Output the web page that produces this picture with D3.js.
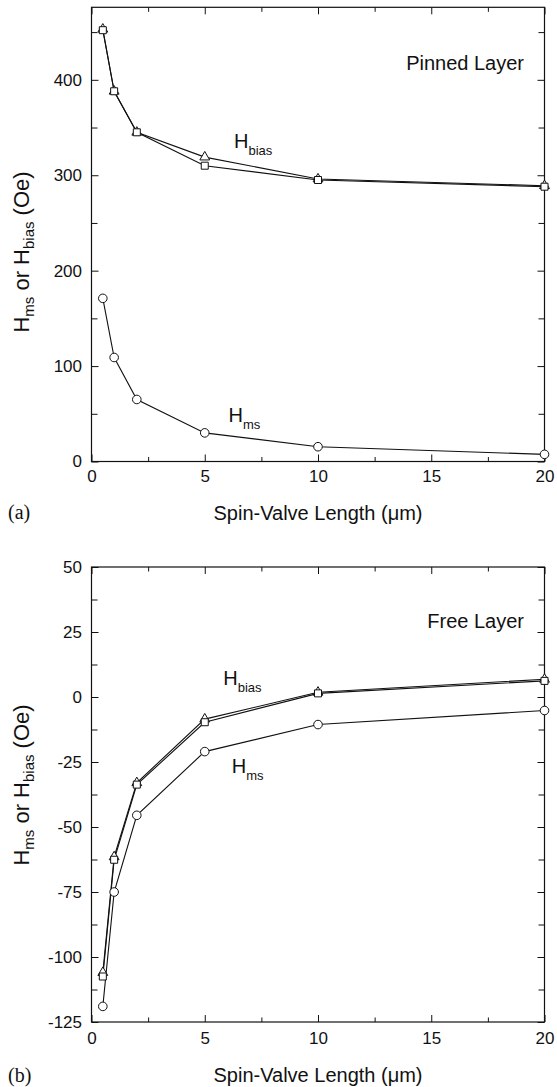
<!DOCTYPE html>
<html>
<head>
<meta charset="utf-8">
<script src="https://cdn.jsdelivr.net/npm/d3@7"></script>
<style>
  body { margin: 0; background: #fff; }
  svg { display: block; }
  text { font-family: "Liberation Sans", Arial, sans-serif; fill: #111; }
  .serif { font-family: "Liberation Serif", "Times New Roman", serif; }
  .tick line { stroke: #111; }
  .tick text { font-size: 17px; }
</style>
</head>
<body>
<svg id="chart" width="557" height="1087"></svg>
<script>
// spin-valve length (um)
const lengths = [0.5, 1, 2, 5, 10, 20];

// pinned layer (Oe)
const pinnedBiasTri = [453, 388, 345, 319, 296, 289];
const pinnedBiasSq = [452, 388, 345, 310, 295, 288];
const pinnedMs = [171, 109, 65, 30, 15.5, 7.5];

// free layer (Oe)
const freeBiasTri = [-106, -61.5, -33, -8.5, 1.8, 6.8];
const freeBiasSq = [-107.5, -62.6, -33.7, -9.7, 1.4, 6.2];
const freeMs = [-119, -75, -45.5, -21, -10.6, -5.2];

const xTicks = [0, 5, 10, 15, 20];
const xMinor = [2.5, 7.5, 12.5, 17.5];
const pinnedTicks = [0, 100, 200, 300, 400];
const pinnedMinor = [50, 150, 250, 350, 450];
const freeTicks = [-125, -100, -75, -50, -25, 0, 25, 50];
const freeMinor = [-112.5, -87.5, -62.5, -37.5, -12.5, 12.5, 37.5];

const svg = d3.select('#chart');
const left = 91.5, right = 544.5;
// plain hyphen for negatives, like the original
const fmt = d => String(d);

const panels = [
  {
    top: 7.3, bottom: 461.5, domain: [0, 476],
    ticks: pinnedTicks, minor: pinnedMinor, xPad: 8.5,
    series: [
      { values: pinnedBiasTri, mark: 'tri' },
      { values: pinnedBiasSq, mark: 'sq' },
      { values: pinnedMs, mark: 'circ' }
    ],
    title: 'Pinned Layer', titleY: 70,
    letter: '(a)', letterY: 519, xTitleY: 520, yTitleY: 252,
    labels: [
      { sub: 'bias', x: 234, y: 148.3 },
      { sub: 'ms', x: 228.5, y: 422 }
    ]
  },
  {
    top: 567, bottom: 1022, domain: [-125, 50],
    ticks: freeTicks, minor: freeMinor, xPad: 10,
    series: [
      { values: freeBiasTri, mark: 'tri' },
      { values: freeBiasSq, mark: 'sq' },
      { values: freeMs, mark: 'circ' }
    ],
    title: 'Free Layer', titleY: 628,
    letter: '(b)', letterY: 1082, xTitleY: 1082, yTitleY: 785,
    labels: [
      { sub: 'bias', x: 223.3, y: 685 },
      { sub: 'ms', x: 231.7, y: 773.3 }
    ]
  }
];

panels.forEach(p => {
  const x = d3.scaleLinear().domain([0, 20]).range([left, right]);
  const y = d3.scaleLinear().domain(p.domain).range([p.bottom, p.top]);
  const g = svg.append('g');

  // ticks point inward on all four sides
  const addAxis = (axis, tx, ty) => {
    const a = g.append('g').attr('transform', `translate(${tx},${ty})`).call(axis);
    a.select('.domain').remove();
    return a;
  };
  addAxis(d3.axisBottom(x).tickValues(xMinor).tickSize(-4.5).tickFormat(''), 0, p.bottom);
  addAxis(d3.axisTop(x).tickValues(xMinor).tickSize(-4.5).tickFormat(''), 0, p.top);
  addAxis(d3.axisLeft(y).tickValues(p.minor).tickSize(-6).tickFormat(''), left, 0);
  addAxis(d3.axisRight(y).tickValues(p.minor).tickSize(-6).tickFormat(''), right, 0);

  addAxis(d3.axisBottom(x).tickValues(xTicks).tickSize(-7).tickPadding(p.xPad).tickFormat(fmt), 0, p.bottom);
  addAxis(d3.axisTop(x).tickValues(xTicks).tickSize(-7).tickFormat(''), 0, p.top);
  addAxis(d3.axisLeft(y).tickValues(p.ticks).tickSize(-7).tickPadding(9.5).tickFormat(fmt), left, 0);
  addAxis(d3.axisRight(y).tickValues(p.ticks).tickSize(-7).tickFormat(''), right, 0);

  g.append('rect')
    .attr('x', left).attr('y', p.top)
    .attr('width', right - left).attr('height', p.bottom - p.top)
    .attr('fill', 'none').attr('stroke', '#111').attr('stroke-width', 1.2);

  const line = d3.line().x((d, i) => x(lengths[i])).y(d => y(d));

  p.series.forEach(s => {
    g.append('path')
      .datum(s.values)
      .attr('d', line)
      .attr('fill', 'none')
      .attr('stroke', '#111')
      .attr('stroke-width', 1.1);
  });

  p.series.forEach(s => {
    const pts = g.append('g').selectAll('.pt').data(s.values).enter();
    if (s.mark === 'circ') {
      pts.append('circle')
        .attr('cx', (d, i) => x(lengths[i]))
        .attr('cy', d => y(d))
        .attr('r', 4.3)
        .attr('fill', '#fff').attr('stroke', '#111').attr('stroke-width', 1);
    } else {
      const sym = d3.symbol()
        .type(s.mark === 'tri' ? d3.symbolTriangle : d3.symbolSquare)
        .size(s.mark === 'tri' ? 42 : 49);
      pts.append('path')
        .attr('d', sym)
        .attr('transform', (d, i) => `translate(${x(lengths[i])},${y(d)})`)
        .attr('fill', '#fff').attr('stroke', '#111').attr('stroke-width', 1);
    }
  });

  // curve labels
  p.labels.forEach(l => {
    const t = g.append('text').attr('x', l.x).attr('y', l.y).style('font-size', '20px');
    t.append('tspan').text('H');
    t.append('tspan').attr('dy', 7).style('font-size', '13px').text(l.sub);
  });

  g.append('text')
    .attr('x', 524).attr('y', p.titleY)
    .attr('text-anchor', 'end')
    .style('font-size', '20px')
    .text(p.title);

  g.append('text')
    .attr('x', (left + right) / 2).attr('y', p.xTitleY)
    .attr('text-anchor', 'middle')
    .style('font-size', '20px')
    .text('Spin-Valve Length (μm)');

  g.append('text')
    .attr('class', 'serif')
    .attr('x', 8).attr('y', p.letterY)
    .style('font-size', '20px')
    .text(p.letter);

  const yt = g.append('text')
    .attr('transform', `translate(29,${p.yTitleY}) rotate(-90)`)
    .attr('text-anchor', 'middle')
    .style('font-size', '22px');
  yt.append('tspan').text('H');
  yt.append('tspan').attr('dy', 5).style('font-size', '15px').text('ms');
  yt.append('tspan').attr('dy', -5).text(' or H');
  yt.append('tspan').attr('dy', 5).style('font-size', '15px').text('bias');
  yt.append('tspan').attr('dy', -5).text(' (Oe)');
});
</script>
</body>
</html>
